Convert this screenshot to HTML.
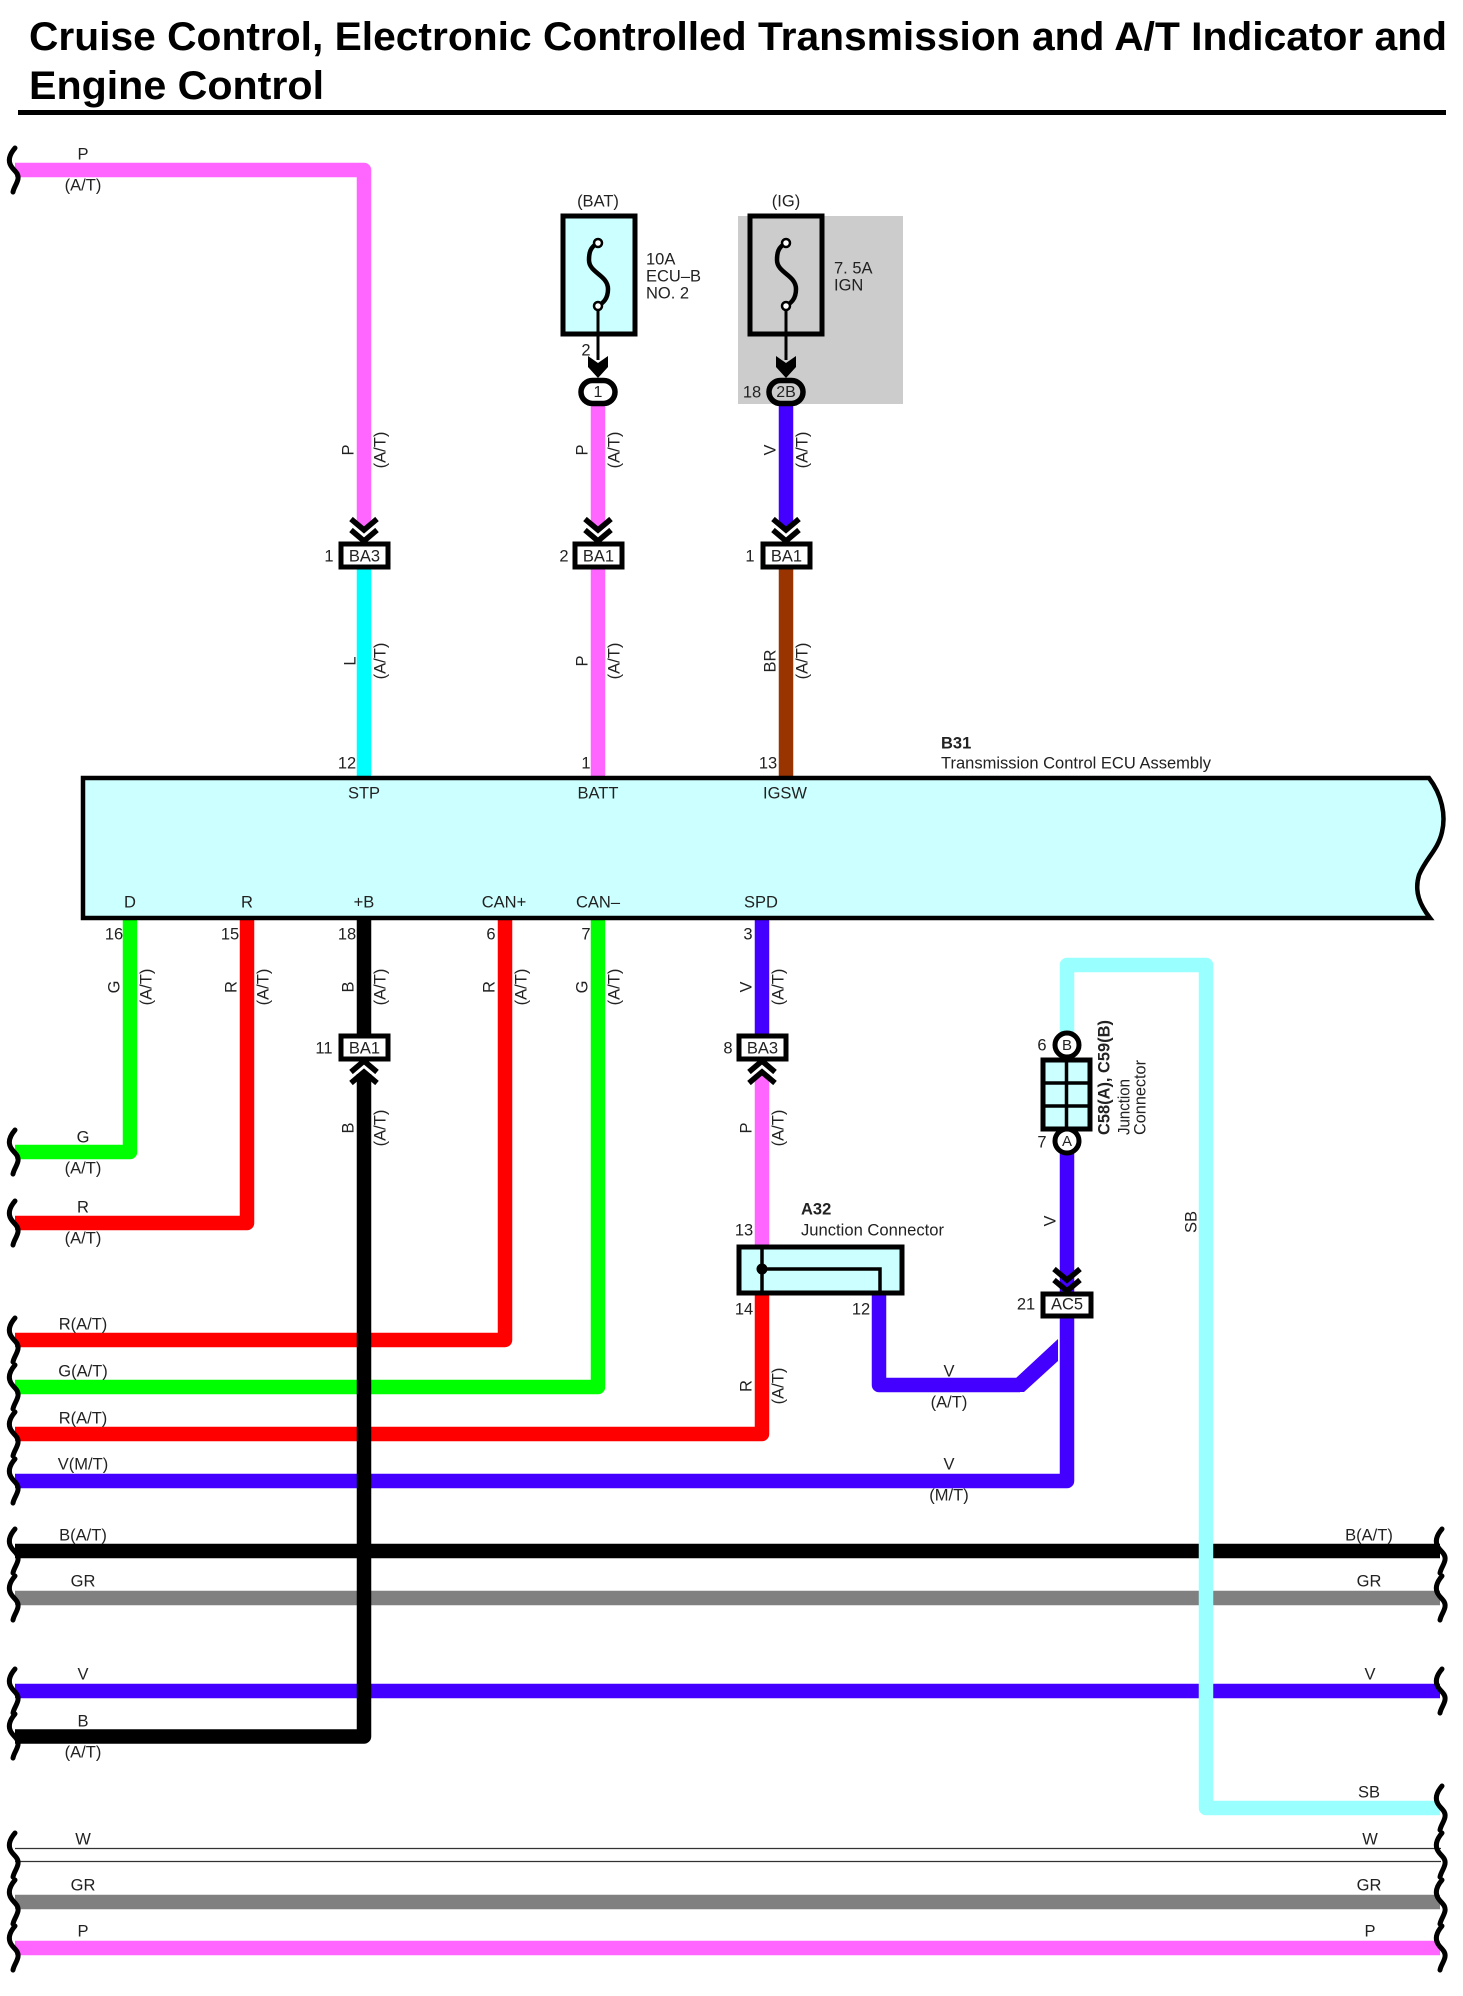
<!DOCTYPE html>
<html>
<head>
<meta charset="utf-8">
<title>Cruise Control Wiring Diagram</title>
<style>
html,body{margin:0;padding:0;background:#fff;width:1463px;height:1996px;overflow:hidden}
svg{display:block}
text{font-family:"Liberation Sans",Arial,sans-serif;font-size:16.5px;fill:#222;dominant-baseline:central}
.m{text-anchor:middle}
.s{text-anchor:start}
.b{font-weight:bold}
.w{fill:none;stroke-width:14.5;stroke-linejoin:round}
.box{fill:#fff;stroke:#000;stroke-width:5}
.cy{fill:#ccffff;stroke:#000;stroke-width:5}
</style>
</head>
<body>
<svg width="1463" height="1996" viewBox="0 0 1463 1996" xmlns="http://www.w3.org/2000/svg">
<defs>
<path id="br" d="M15,-22 C9,-15 8,-9 11,-4 C14,1 19,3 18,9 C17,14 14,17 13,22" fill="none" stroke="#000" stroke-width="5" stroke-linecap="round"/>
<path id="chd" d="M-13,-23 L0,-12 L13,-23 M-13,-12 L0,-1 L13,-12" fill="none" stroke="#000" stroke-width="5.500"/>
<path id="chu" d="M-13,23 L0,12 L13,23 M-13,12 L0,1 L13,12" fill="none" stroke="#000" stroke-width="5.500"/>
<g id="fuse">
<path d="M0,28 C-8,32 -9,38 -9,45 C-9,58 10,60 10,74 C10,84 5,88 0,91" fill="none" stroke="#000" stroke-width="4.500"/>
<circle cx="0" cy="28" r="4" fill="#fff" stroke="#000" stroke-width="2.500"/>
<circle cx="0" cy="91" r="4" fill="#fff" stroke="#000" stroke-width="2.500"/>
<path d="M0,95 V145" stroke="#000" stroke-width="3" fill="none"/>
<path d="M-10,141 L0,148 L10,141 V152 L0,163 L-10,152 Z" fill="#000"/>
</g>
</defs>

<!-- title -->
<text x="29" y="37" class="b" style="font-size:40px;fill:#000" textLength="1418" lengthAdjust="spacingAndGlyphs">Cruise Control, Electronic Controlled Transmission and A/T Indicator and</text>
<text x="29" y="86" class="b" style="font-size:40px;fill:#000" textLength="295" lengthAdjust="spacingAndGlyphs">Engine Control</text>
<rect x="18" y="110" width="1428" height="5" fill="#000"/>

<!-- grey zone -->
<rect x="738" y="216" width="165" height="188" fill="#cccccc"/>

<!-- wires -->
<g fill="none">
<path class="w" stroke="#ff66ff" d="M15,170 H364 V527"/>
<path class="w" stroke="#00ffff" d="M364,569 V778"/>
<path class="w" stroke="#ff66ff" d="M598,405 V527"/>
<path class="w" stroke="#ff66ff" d="M598,569 V778"/>
<path class="w" stroke="#4400ff" d="M786,405 V527"/>
<path class="w" stroke="#993300" d="M786,569 V778"/>

<path class="w" stroke="#00ff00" d="M15,1152 H130 V918"/>
<path class="w" stroke="#ff0000" d="M15,1223 H247 V918"/>
<path class="w" stroke="#ff0000" d="M15,1340 H505 V918"/>
<path class="w" stroke="#00ff00" d="M15,1387 H598 V918"/>
<path class="w" stroke="#ff0000" d="M15,1434 H762 V1294"/>
<path class="w" stroke="#4400ff" d="M15,1481 H1067 V1141"/>
<path class="w" stroke="#4400ff" d="M762,918 V1034"/>
<path class="w" stroke="#ff66ff" d="M762,1074 V1245"/>
<path class="w" stroke="#4400ff" d="M879,1294 V1385 H1020"/>
<path d="M1016,1378 L1058,1339 V1361 L1024,1392 H1016 Z" fill="#4400ff"/>
<path class="w" stroke="#000" d="M15,1551 H1440"/>
<path class="w" stroke="#808080" d="M15,1598 H1440"/>
<path class="w" stroke="#4400ff" d="M15,1691 H1440"/>
<path class="w" stroke="#808080" d="M15,1902 H1440"/>
<path class="w" stroke="#ff66ff" d="M15,1948 H1440"/>
<path class="w" stroke="#000" d="M15,1736.500 H364 V1074"/>
<path class="w" stroke="#000" d="M364,918 V1034"/>
<path class="w" stroke="#99ffff" d="M1067,1044 V965 H1206 V1808 H1440"/>
<path d="M15,1848.500 H1441 M15,1861.500 H1441" stroke="#333" stroke-width="1.300"/>
</g>

<!-- wire end brackets -->
<g>
<use href="#br" x="0" y="170"/><use href="#br" x="0" y="1152"/><use href="#br" x="0" y="1223"/>
<use href="#br" x="0" y="1340"/><use href="#br" x="0" y="1387"/><use href="#br" x="0" y="1434"/>
<use href="#br" x="0" y="1481"/><use href="#br" x="0" y="1551"/><use href="#br" x="0" y="1598"/>
<use href="#br" x="0" y="1691"/><use href="#br" x="0" y="1736"/><use href="#br" x="0" y="1855"/>
<use href="#br" x="0" y="1902"/><use href="#br" x="0" y="1948"/>
<use href="#br" x="1427" y="1551"/><use href="#br" x="1427" y="1598"/><use href="#br" x="1427" y="1691"/>
<use href="#br" x="1427" y="1808"/><use href="#br" x="1427" y="1855"/><use href="#br" x="1427" y="1902"/>
<use href="#br" x="1427" y="1948"/>
</g>

<!-- ECU -->
<path d="M83,778 H1429 C1442,795 1446,815 1442,832 C1438,850 1426,858 1419,875 C1414,892 1420,905 1430,918 H83 Z" fill="#ccffff" stroke="#000" stroke-width="4.500"/>

<!-- fuses -->
<rect x="563" y="216" width="72" height="118" fill="#ccffff" stroke="#000" stroke-width="5"/>
<rect x="750" y="216" width="72" height="118" fill="#cccccc" stroke="#000" stroke-width="5"/>
<use href="#fuse" x="598" y="215"/>
<use href="#fuse" x="786" y="215"/>
<rect x="581" y="380.500" width="34" height="23" rx="11.500" fill="#fff" stroke="#000" stroke-width="5.500"/>
<rect x="769" y="380.500" width="34" height="23" rx="11.500" fill="#cccccc" stroke="#000" stroke-width="5.500"/>

<!-- connectors -->
<use href="#chd" x="364" y="542"/><use href="#chd" x="598" y="542"/><use href="#chd" x="786" y="542"/>
<rect x="341" y="544" width="47" height="23" class="box"/>
<rect x="575" y="544" width="47" height="23" class="box"/>
<rect x="763" y="544" width="47" height="23" class="box"/>
<rect x="341" y="1036" width="47" height="23" class="box"/>
<rect x="739" y="1036" width="47" height="23" class="box"/>
<use href="#chu" x="364" y="1060"/><use href="#chu" x="762" y="1060"/>
<use href="#chd" x="1067" y="1292"/>
<rect x="1043" y="1294" width="48" height="22" class="box"/>

<!-- A32 -->
<rect x="739" y="1247" width="163" height="46" class="cy"/>
<path d="M762,1247 V1293" stroke="#000" stroke-width="3.500"/>
<path d="M762,1269 H880 V1293" stroke="#000" stroke-width="3.500" fill="none"/>
<circle cx="762" cy="1269" r="5.500" fill="#000"/>

<!-- C58/C59 -->
<rect x="1043" y="1060" width="47" height="69" class="cy"/>
<path d="M1066.500,1060 V1129 M1043,1083 H1090 M1043,1106 H1090" stroke="#000" stroke-width="3.500"/>
<circle cx="1067" cy="1045" r="12" class="box"/>
<circle cx="1067" cy="1141" r="12" class="box"/>

<g transform="translate(0,1.300)">
<!-- connector labels -->
<text x="598" y="391" class="m" style="font-size:16px">1</text>
<text x="786" y="391" class="m" style="font-size:16px">2B</text>
<text x="364.500" y="555" class="m">BA3</text>
<text x="598.500" y="555" class="m">BA1</text>
<text x="786.500" y="555" class="m">BA1</text>
<text x="364.500" y="1047" class="m">BA1</text>
<text x="762.500" y="1047" class="m">BA3</text>
<text x="1067" y="1303" class="m">AC5</text>
<text x="1067" y="1044" class="m" style="font-size:15px">B</text>
<text x="1067" y="1140" class="m" style="font-size:15px">A</text>

<!-- fuse labels -->
<text x="598" y="200" class="m">(BAT)</text>
<text x="786" y="200" class="m">(IG)</text>
<text x="646" y="258">10A</text>
<text x="646" y="275">ECU–B</text>
<text x="646" y="292">NO. 2</text>
<text x="834" y="267">7. 5A</text>
<text x="834" y="284">IGN</text>

<!-- B31 -->
<text x="941" y="742" class="b">B31</text>
<text x="941" y="762" textLength="270" lengthAdjust="spacingAndGlyphs">Transmission Control ECU Assembly</text>

<!-- ECU pins -->
<text x="364" y="792" class="m">STP</text>
<text x="598" y="792" class="m">BATT</text>
<text x="785" y="792" class="m">IGSW</text>
<text x="130" y="901" class="m">D</text>
<text x="247" y="901" class="m">R</text>
<text x="364" y="901" class="m">+B</text>
<text x="504" y="901" class="m">CAN+</text>
<text x="598" y="901" class="m">CAN–</text>
<text x="761" y="901" class="m">SPD</text>

<!-- pin numbers -->
<text x="347" y="762" class="m">12</text>
<text x="586" y="762" class="m">1</text>
<text x="768" y="762" class="m">13</text>
<text x="114" y="933" class="m">16</text>
<text x="230" y="933" class="m">15</text>
<text x="347" y="933" class="m">18</text>
<text x="491" y="933" class="m">6</text>
<text x="586" y="933" class="m">7</text>
<text x="748" y="933" class="m">3</text>
<text x="586" y="349" class="m">2</text>
<text x="752" y="391" class="m">18</text>
<text x="329" y="555" class="m">1</text>
<text x="564" y="555" class="m">2</text>
<text x="750" y="555" class="m">1</text>
<text x="324" y="1047" class="m">11</text>
<text x="728" y="1047" class="m">8</text>
<text x="1042" y="1044" class="m">6</text>
<text x="1042" y="1141" class="m">7</text>
<text x="1026" y="1303" class="m">21</text>
<text x="744" y="1229" class="m">13</text>
<text x="744" y="1308" class="m">14</text>
<text x="861" y="1308" class="m">12</text>

<!-- A32 labels -->
<text x="801" y="1208" class="b">A32</text>
<text x="801" y="1229" textLength="143" lengthAdjust="spacingAndGlyphs">Junction Connector</text>

<!-- horizontal labels, left -->
<text x="83" y="153" class="m">P</text>
<text x="83" y="184" class="m">(A/T)</text>
<text x="83" y="1136" class="m">G</text>
<text x="83" y="1167" class="m">(A/T)</text>
<text x="83" y="1206" class="m">R</text>
<text x="83" y="1237" class="m">(A/T)</text>
<text x="83" y="1323" class="m">R(A/T)</text>
<text x="83" y="1370" class="m">G(A/T)</text>
<text x="83" y="1417" class="m">R(A/T)</text>
<text x="83" y="1463" class="m">V(M/T)</text>
<text x="83" y="1534" class="m">B(A/T)</text>
<text x="83" y="1580" class="m">GR</text>
<text x="83" y="1673" class="m">V</text>
<text x="83" y="1720" class="m">B</text>
<text x="83" y="1751" class="m">(A/T)</text>
<text x="83" y="1838" class="m">W</text>
<text x="83" y="1884" class="m">GR</text>
<text x="83" y="1930" class="m">P</text>

<!-- mid labels -->
<text x="949" y="1370" class="m">V</text>
<text x="949" y="1401" class="m">(A/T)</text>
<text x="949" y="1463" class="m">V</text>
<text x="949" y="1494" class="m">(M/T)</text>

<!-- right labels -->
<text x="1369" y="1534" class="m">B(A/T)</text>
<text x="1369" y="1580" class="m">GR</text>
<text x="1370" y="1673" class="m">V</text>
<text x="1369" y="1791" class="m">SB</text>
<text x="1370" y="1838" class="m">W</text>
<text x="1369" y="1884" class="m">GR</text>
<text x="1370" y="1930" class="m">P</text>
</g>

<!-- rotated labels -->
<g transform="translate(1.500,0)">
<text class="m" transform="translate(347,450) rotate(-90)">P</text>
<text class="m" transform="translate(379,450) rotate(-90)">(A/T)</text>
<text class="m" transform="translate(581,450) rotate(-90)">P</text>
<text class="m" transform="translate(613,450) rotate(-90)">(A/T)</text>
<text class="m" transform="translate(769,450) rotate(-90)">V</text>
<text class="m" transform="translate(801,450) rotate(-90)">(A/T)</text>
<text class="m" transform="translate(349,661) rotate(-90)">L</text>
<text class="m" transform="translate(379,661) rotate(-90)">(A/T)</text>
<text class="m" transform="translate(581,661) rotate(-90)">P</text>
<text class="m" transform="translate(613,661) rotate(-90)">(A/T)</text>
<text class="m" transform="translate(769,661) rotate(-90)">BR</text>
<text class="m" transform="translate(801,661) rotate(-90)">(A/T)</text>
<text class="m" transform="translate(113,987) rotate(-90)">G</text>
<text class="m" transform="translate(145,987) rotate(-90)">(A/T)</text>
<text class="m" transform="translate(230,987) rotate(-90)">R</text>
<text class="m" transform="translate(262,987) rotate(-90)">(A/T)</text>
<text class="m" transform="translate(347,987) rotate(-90)">B</text>
<text class="m" transform="translate(379,987) rotate(-90)">(A/T)</text>
<text class="m" transform="translate(488,987) rotate(-90)">R</text>
<text class="m" transform="translate(520,987) rotate(-90)">(A/T)</text>
<text class="m" transform="translate(581,987) rotate(-90)">G</text>
<text class="m" transform="translate(613,987) rotate(-90)">(A/T)</text>
<text class="m" transform="translate(745,987) rotate(-90)">V</text>
<text class="m" transform="translate(777,987) rotate(-90)">(A/T)</text>
<text class="m" transform="translate(347,1128) rotate(-90)">B</text>
<text class="m" transform="translate(379,1128) rotate(-90)">(A/T)</text>
<text class="m" transform="translate(745,1128) rotate(-90)">P</text>
<text class="m" transform="translate(777,1128) rotate(-90)">(A/T)</text>
<text class="m" transform="translate(745,1386) rotate(-90)">R</text>
<text class="m" transform="translate(777,1386) rotate(-90)">(A/T)</text>
<text class="m" transform="translate(1049,1221) rotate(-90)">V</text>
<text class="m" transform="translate(1190,1222) rotate(-90)">SB</text>
<text class="s b" transform="translate(1103,1135) rotate(-90)" textLength="115" lengthAdjust="spacingAndGlyphs">C58(A), C59(B)</text>
<text class="s" transform="translate(1123,1135) rotate(-90)" textLength="56" lengthAdjust="spacingAndGlyphs">Junction</text>
<text class="s" transform="translate(1139,1135) rotate(-90)" textLength="75" lengthAdjust="spacingAndGlyphs">Connector</text>
</g>
</svg>
</body>
</html>
